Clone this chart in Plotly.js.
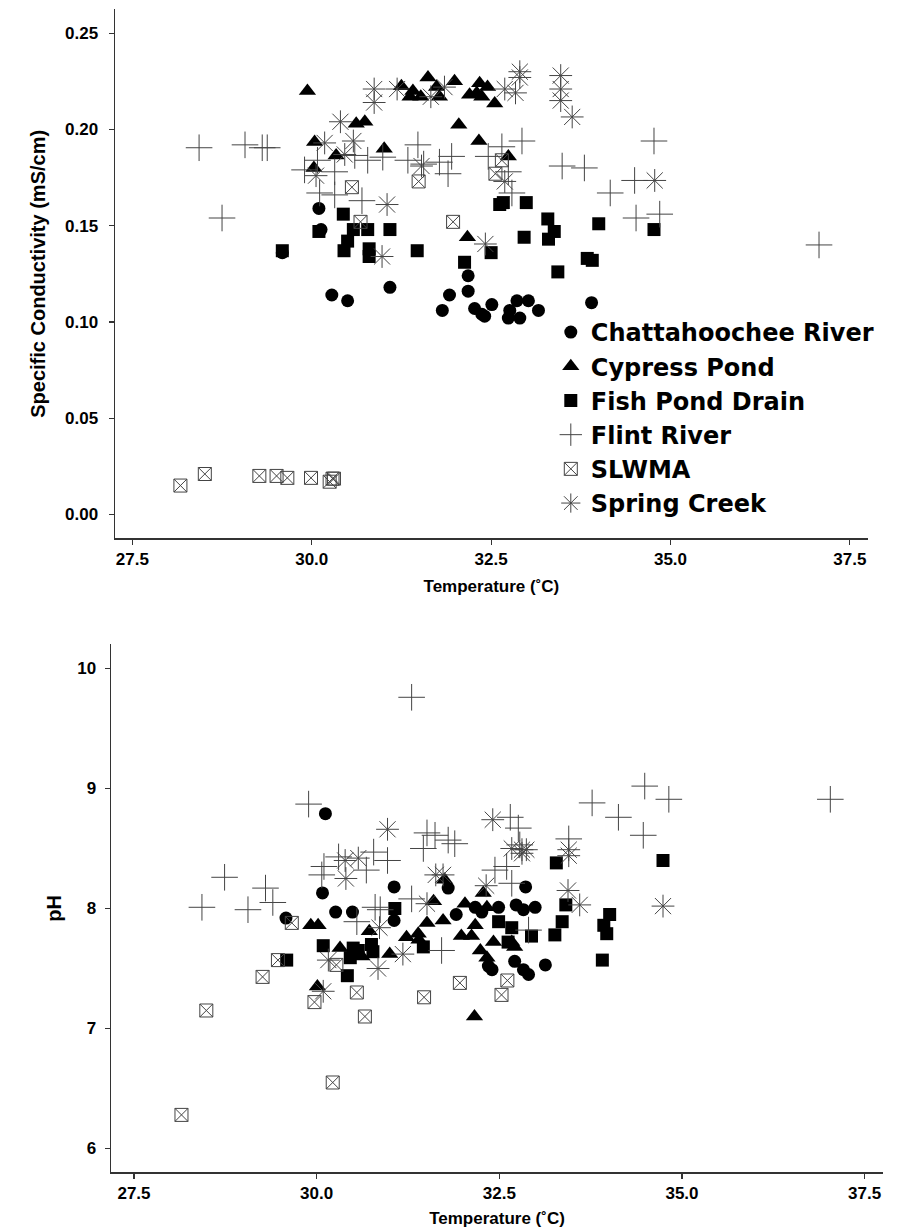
<!DOCTYPE html>
<html>
<head>
<meta charset="utf-8">
<script src="https://cdn.plot.ly/plotly-3.0.1.min.js"></script>
<style>
html,body{margin:0;padding:0;background:#fff;}
#chart{width:900px;height:1230px;}
</style>
</head>
<body>
<div id="chart"></div>
<script>
// ---------- Series names ----------
const seriesNames = ["Chattahoochee River", "Cypress Pond", "Fish Pond Drain", "Flint River", "SLWMA", "Spring Creek"];

// ---------- Top panel: Temperature vs Specific Conductivity ----------
const chattCondT = [30.10, 30.13, 29.59, 30.28, 30.50, 31.09, 32.18, 32.18, 31.92, 31.82, 32.27, 32.41, 32.37, 32.51, 32.86, 33.02, 33.16, 32.76, 32.74, 32.90, 33.90];
const chattCond  = [0.159, 0.148, 0.136, 0.114, 0.111, 0.118, 0.124, 0.116, 0.114, 0.106, 0.107, 0.103, 0.104, 0.109, 0.111, 0.111, 0.106, 0.106, 0.102, 0.102, 0.110];

const cypressCondT = [29.94, 30.62, 30.74, 30.04, 30.34, 31.01, 30.03, 31.25, 31.41, 31.52, 31.37, 31.62, 31.74, 31.78, 31.99, 32.20, 32.34, 32.45, 32.37, 32.55, 32.30, 32.05, 32.33, 32.74, 32.17];
const cypressCond  = [0.220, 0.203, 0.204, 0.1935, 0.1865, 0.190, 0.180, 0.2225, 0.220, 0.217, 0.217, 0.227, 0.222, 0.217, 0.225, 0.218, 0.224, 0.222, 0.217, 0.2135, 0.219, 0.2025, 0.194, 0.186, 0.144];

const fishCondT = [30.44, 30.10, 30.58, 30.78, 31.09, 30.50, 30.45, 30.80, 30.80, 29.59, 32.67, 32.62, 32.99, 31.47, 32.50, 32.13, 33.29, 33.38, 33.30, 32.96, 34.00, 33.84, 33.91, 33.43, 34.77];
const fishCond  = [0.156, 0.147, 0.148, 0.148, 0.148, 0.142, 0.137, 0.138, 0.134, 0.137, 0.162, 0.161, 0.162, 0.137, 0.136, 0.131, 0.1535, 0.147, 0.143, 0.144, 0.151, 0.133, 0.132, 0.126, 0.148];

const flintCondT = [28.43, 29.07, 29.31, 29.38, 28.75, 29.90, 30.08, 30.11, 30.32, 30.32, 30.60, 30.70, 30.78, 30.99, 31.34, 31.48, 31.56, 31.78, 31.90, 31.95, 32.46, 32.65, 32.74, 32.79, 32.93, 33.49, 33.80, 34.16, 34.50, 34.52, 34.77, 34.85, 37.07];
const flintCond  = [0.1905, 0.192, 0.1905, 0.1905, 0.154, 0.179, 0.184, 0.167, 0.178, 0.166, 0.1865, 0.163, 0.184, 0.1856, 0.184, 0.192, 0.182, 0.183, 0.177, 0.186, 0.186, 0.191, 0.178, 0.167, 0.194, 0.181, 0.180, 0.167, 0.1735, 0.154, 0.194, 0.156, 0.140];

const slwmaCondT = [28.17, 28.51, 29.27, 29.51, 29.66, 29.99, 30.25, 30.29, 30.31, 30.56, 30.68, 31.49, 31.97, 32.65, 32.56];
const slwmaCond  = [0.015, 0.021, 0.020, 0.020, 0.019, 0.019, 0.017, 0.0186, 0.0186, 0.170, 0.152, 0.173, 0.152, 0.184, 0.177];

const springCondT = [30.87, 30.87, 30.40, 30.46, 30.18, 30.58, 30.06, 31.05, 30.98, 31.19, 31.66, 31.85, 32.69, 32.84, 32.90, 32.90, 33.47, 33.47, 33.47, 33.63, 31.53, 32.69, 32.42, 34.78];
const springCond  = [0.221, 0.214, 0.204, 0.187, 0.193, 0.194, 0.176, 0.161, 0.134, 0.221, 0.217, 0.222, 0.221, 0.219, 0.230, 0.227, 0.228, 0.221, 0.215, 0.2065, 0.181, 0.173, 0.1405, 0.1735];

// ---------- Bottom panel: Temperature vs pH ----------
const chattPhT = [30.12, 30.08, 31.06, 30.26, 30.49, 29.58, 31.06, 31.80, 32.86, 31.91, 32.17, 32.26, 32.49, 32.73, 32.83, 32.99, 32.71, 32.83, 32.90, 32.40, 32.35, 33.13];
const chattPh  = [8.79, 8.13, 8.18, 7.97, 7.97, 7.92, 7.90, 8.17, 8.18, 7.95, 8.01, 7.97, 8.01, 8.03, 7.99, 8.01, 7.56, 7.49, 7.45, 7.49, 7.52, 7.53];

const cypressPhT = [29.92, 30.02, 30.72, 31.75, 32.28, 31.60, 32.03, 32.33, 31.51, 31.73, 32.17, 31.23, 31.39, 31.40, 31.00, 31.98, 32.12, 32.24, 32.33, 32.42, 32.67, 32.71, 32.16, 30.01, 30.32, 30.62];
const cypressPh  = [7.86, 7.86, 7.81, 8.24, 8.13, 8.06, 8.04, 8.01, 7.88, 7.90, 7.86, 7.76, 7.79, 7.74, 7.62, 7.77, 7.77, 7.65, 7.59, 7.72, 7.72, 7.68, 7.10, 7.35, 7.67, 7.60];

const fishPhT = [31.07, 33.28, 34.74, 33.41, 32.49, 32.67, 32.94, 33.26, 33.36, 34.01, 33.93, 33.97, 32.62, 33.91, 31.46, 29.59, 30.09, 30.50, 30.57, 30.46, 30.75, 30.77, 30.42];
const fishPh  = [8.00, 8.38, 8.40, 8.03, 7.89, 7.84, 7.77, 7.78, 7.89, 7.95, 7.86, 7.79, 7.72, 7.57, 7.68, 7.57, 7.69, 7.67, 7.65, 7.59, 7.70, 7.64, 7.44];

const flintPhT = [29.89, 30.30, 30.78, 30.97, 30.10, 30.07, 30.68, 28.74, 29.30, 29.40, 28.43, 29.06, 30.80, 30.87, 30.55, 31.30, 34.49, 34.82, 33.77, 34.13, 34.47, 32.65, 32.76, 32.78, 33.45, 31.51, 31.62, 31.80, 31.89, 31.46, 32.44, 32.60, 32.67, 31.30, 32.90, 31.71, 37.03];
const flintPh  = [8.87, 8.43, 8.47, 8.40, 8.35, 8.28, 8.32, 8.26, 8.17, 8.05, 8.01, 7.99, 8.01, 7.99, 7.89, 9.76, 9.02, 8.91, 8.88, 8.76, 8.61, 8.76, 8.67, 8.53, 8.58, 8.63, 8.61, 8.57, 8.54, 8.50, 8.32, 8.35, 8.21, 8.08, 7.82, 7.65, 8.91];

const slwmaPhT = [28.15, 28.49, 29.26, 29.47, 29.66, 29.97, 30.22, 30.27, 30.55, 30.66, 31.47, 31.96, 32.61, 32.53];
const slwmaPh  = [6.28, 7.15, 7.43, 7.57, 7.88, 7.22, 6.55, 7.53, 7.30, 7.10, 7.26, 7.38, 7.40, 7.28];

const springPhT = [30.97, 30.39, 30.57, 30.40, 30.86, 32.41, 32.67, 32.81, 32.87, 32.81, 33.45, 33.45, 34.74, 31.63, 31.73, 32.32, 33.44, 33.60, 31.51, 31.18, 30.16, 30.84, 30.09];
const springPh  = [8.66, 8.40, 8.42, 8.25, 7.84, 8.74, 8.50, 8.49, 8.49, 8.46, 8.49, 8.44, 8.02, 8.28, 8.28, 8.19, 8.15, 8.03, 8.04, 7.62, 7.57, 7.50, 7.31];

// ---------- Axis ticks ----------
const tempTicks = [27.5, 30.0, 32.5, 35.0, 37.5];
const condTicks = [0.00, 0.05, 0.10, 0.15, 0.20, 0.25];
const phTicks = [6, 7, 8, 9, 10];

// ---------- Styles ----------
const lineCol = '#444';
const styles = [
  {symbol: 'circle', size: 13, color: '#000', line: {width: 0}},
  {symbol: 'triangle-up', size: 15, color: '#000', line: {width: 0}},
  {symbol: 'square', size: 13, color: '#000', line: {width: 0}},
  {symbol: 'cross-thin-open', size: 19, color: lineCol, line: {width: 1, color: lineCol}},
  {symbol: 'square-x-open', size: 13, color: lineCol, line: {width: 1, color: '#333'}},
  {symbol: 'asterisk-open', size: 19, color: lineCol, line: {width: 1, color: lineCol}}
];

const topX = [chattCondT, cypressCondT, fishCondT, flintCondT, slwmaCondT, springCondT];
const topY = [chattCond, cypressCond, fishCond, flintCond, slwmaCond, springCond];
const botX = [chattPhT, cypressPhT, fishPhT, flintPhT, slwmaPhT, springPhT];
const botY = [chattPh, cypressPh, fishPh, flintPh, slwmaPh, springPh];

const traces = [];
seriesNames.forEach((name, i) => {
  traces.push({
    type: 'scatter', mode: 'markers', name: name, legendgroup: name,
    x: topX[i], y: topY[i], xaxis: 'x', yaxis: 'y',
    marker: styles[i], showlegend: true, cliponaxis: false
  });
});
seriesNames.forEach((name, i) => {
  traces.push({
    type: 'scatter', mode: 'markers', name: name, legendgroup: name,
    x: botX[i], y: botY[i], xaxis: 'x2', yaxis: 'y2',
    marker: styles[i], showlegend: false, cliponaxis: false
  });
});

const FONT = 'Liberation Sans, Arial, Helvetica, sans-serif';
const tickFont = {family: FONT, size: 17, color: '#000', weight: 'bold'};
const xTitleFont = {family: FONT, size: 17, color: '#000', weight: 'bold'};
const yTitleFont = {family: FONT, size: 20, color: '#000', weight: 'bold'};

function axisBase() {
  return {
    showgrid: false, zeroline: false, showline: true, linecolor: '#333', linewidth: 1.3,
    ticks: 'outside', ticklen: 5, tickcolor: '#333', tickwidth: 1.2,
    tickfont: tickFont, fixedrange: true
  };
}

const layout = {
  width: 900, height: 1230,
  margin: {l: 0, r: 0, t: 0, b: 0},
  paper_bgcolor: '#fff', plot_bgcolor: '#fff',
  showlegend: true,
  legend: {
    x: 0.612, y: 0.748, xanchor: 'left', yanchor: 'top',
    font: {family: 'DejaVu Sans, Liberation Sans, sans-serif', size: 24, color: '#000', weight: 'bold'},
    bgcolor: 'rgba(0,0,0,0)', itemsizing: 'trace', tracegroupgap: 0
  },
  xaxis: Object.assign(axisBase(), {
    domain: [0.1276, 0.9644], range: [27.256, 37.752], anchor: 'y',
    tickvals: tempTicks, tickformat: '.1f',
    title: {text: 'Temperature (˚C)', font: xTitleFont, standoff: 12}
  }),
  yaxis: Object.assign(axisBase(), {
    domain: [0.5622, 0.99256], range: [-0.0125, 0.2625], anchor: 'x',
    tickvals: condTicks, tickformat: '.2f', ticklabelstandoff: 7,
    title: {text: 'Specific Conductivity (mS/cm)', font: yTitleFont, standoff: 14}
  }),
  xaxis2: Object.assign(axisBase(), {
    domain: [0.1233, 0.9812], range: [27.185, 37.752], anchor: 'y2',
    tickvals: tempTicks, tickformat: '.1f',
    title: {text: 'Temperature (˚C)', font: xTitleFont, standoff: 10}
  }),
  yaxis2: Object.assign(axisBase(), {
    domain: [0.04675, 0.47602], range: [5.8, 10.2], anchor: 'x2',
    tickvals: phTicks, tickformat: 'd', ticklabelstandoff: 5,
    title: {text: 'pH', font: yTitleFont, standoff: 10}
  })
};

Plotly.newPlot('chart', traces, layout, {displayModeBar: false, staticPlot: true});
</script>
</body>
</html>
